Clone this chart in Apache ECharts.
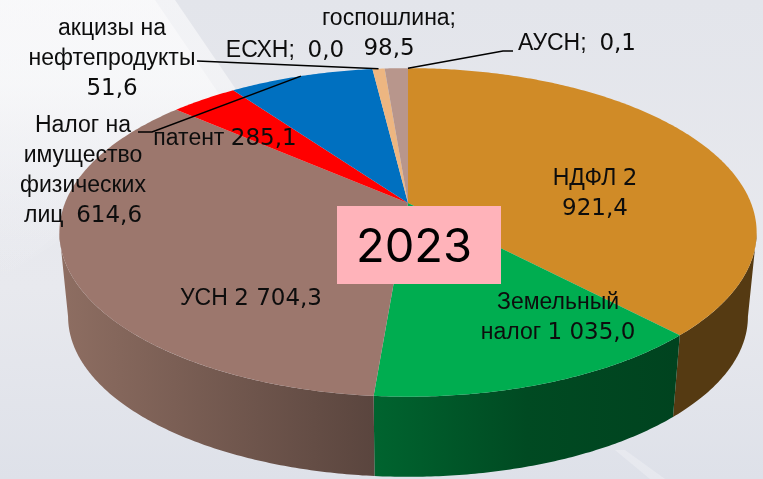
<!DOCTYPE html>
<html>
<head>
<meta charset="utf-8">
<style>
    html, body { margin: 0; padding: 0; }
    #chart { width: 763px; height: 479px; }
</style>
<script src="https://cdn.jsdelivr.net/npm/echarts@6/dist/echarts.min.js"></script>
</head>
<body>
<div id="chart"></div>
<script>
    /* данные 2023 */
    var names = ['НДФЛ', 'Земельный налог', 'УСН', 'патент', 'Налог на имущество физических лиц', 'акцизы на нефтепродукты', 'ЕСХН', 'госпошлина', 'АУСН'];
    var values = [2921.4, 1035.0, 2704.3, 285.1, 614.6, 51.6, 0.0, 98.5, 0.1];
    var labelTexts = ['НДФЛ 2\n921,4', 'Земельный\nналог 1 035,0', 'УСН 2 704,3', 'патент 285,1', 'Налог на\nимущество\nфизических\nлиц  614,6', 'акцизы на\nнефтепродукты\n51,6', 'ЕСХН;  0,0', 'госпошлина;\n98,5', 'АУСН;  0,1'];
    var yearLabel = '2023';

    /* стили */
    var topColors = ['#D08B27', '#00AD50', '#9C776D', '#FF0000', '#0070C0', '#EDB681', '#A5A5A5', '#B8968C', '#5B9BD5'];
    var wallColors = [
        ['#553A12', '#553A12'],
        ['#00642F', '#004A22', '#00431F'],
        ['#8E6E62', '#5A453E'],
        ['#990000', '#990000'],
        ['#004373', '#004373'],
        ['#8E6D4D', '#8E6D4D'],
        ['#636363', '#636363'],
        ['#6E5A54', '#6E5A54'],
        ['#375D80', '#375D80']
    ];
    var labelX = [595, 558, 251, 225, 83, 112, 285, 389, 577];
    var labelY = [194, 318, 299, 139, 171, 59, 51, 34, 44];
    /* выноски: от подписи к середине сектора */
    var leaders = { 4: [[138, 132], [152, 132]], 5: [[197, 61]], 8: [[513, 51], [503, 51]] };

    /* перспектива круга */
    var cx = 408, apexY = 203, scaleX = 343, scaleY = 159, persp = 0.179;
    var wallY = 288, wallScale = 0.975;
    /* углы, где боковая стенка переходит в контур */
    var wallFrom = Math.acos(-persp), wallTo = Math.PI * 2 - wallFrom;

    var total = values.reduce(function (a, b) { return a + b; }, 0);
    var starts = [];
    values.reduce(function (sum, v, i) { starts[i] = sum; return sum + v; }, 0);

    function toAngle(v) { return v / total * Math.PI * 2; }
    function project(angle, y0, s) {
        var u = Math.sin(angle), v = Math.cos(angle), d = 1 + persp * v;
        return [cx + s * scaleX * u / d, y0 - s * scaleY * v / d];
    }
    function arc(a0, a1, y0, s) {
        var pts = [], n = Math.max(1, Math.ceil((a1 - a0) / 0.01));
        for (var i = 0; i <= n; i++) {
            pts.push(project(a0 + (a1 - a0) * i / n, y0, s));
        }
        return pts;
    }

    function renderWall(params, api) {
        var i = params.dataIndex;
        var a0 = Math.max(toAngle(starts[i]), wallFrom);
        var a1 = Math.min(toAngle(starts[i] + api.value(0)), wallTo);
        if (a1 <= a0) return { type: 'group', children: [] };
        var stops = wallColors[i].map(function (c, k, all) {
            return { offset: k / (all.length - 1), color: c };
        });
        var pts = arc(a0, a1, apexY, 1).concat(arc(a0, a1, wallY, wallScale).reverse());
        return {
            type: 'polygon',
            shape: { points: pts },
            style: { fill: new echarts.graphic.LinearGradient(0, 0, 1, 0, stops) }
        };
    }

    function renderTop(params, api) {
        var i = params.dataIndex;
        var a0 = toAngle(starts[i]), a1 = toAngle(starts[i] + api.value(0));
        if (a1 <= a0) return { type: 'group', children: [] };
        return {
            type: 'polygon',
            shape: { points: [[cx, apexY]].concat(arc(a0, a1, apexY, 1)) },
            style: { fill: topColors[i] }
        };
    }

    function renderLeader(params, api) {
        var i = params.dataIndex;
        if (!leaders[i]) return { type: 'group', children: [] };
        var mid = project(toAngle(starts[i] + api.value(0) / 2), apexY, 1);
        return {
            type: 'polyline',
            shape: { points: leaders[i].concat([mid]) },
            style: { stroke: '#000', lineWidth: 1.5, fill: null }
        };
    }

    /* цифры в оригинале шире букв, поэтому два шрифта */
    function richLabel(text) {
        return text.split('\n').map(function (line) {
            return line.split(/(\d[\d ,]*)/).map(function (part, k) {
                if (!part) return '';
                return (k % 2 ? '{d|' : '{w|') + part + '}';
            }).join('');
        }).join('\n');
    }
    var labelRich = {
        w: { font: '23px "Liberation Sans", sans-serif', lineHeight: 30, fill: '#0D0D0D' },
        d: { font: '23px "DejaVu Sans", sans-serif', lineHeight: 30, fill: '#0D0D0D' }
    };

    var whiteFade = [
        { offset: 0, color: 'rgba(252,252,253,0.6)' }, { offset: 0.3, color: 'rgba(250,250,251,0.6)' }, { offset: 1, color: 'rgba(240,241,245,0)' }
    ];
    var graphics = [
        {
            type: 'polygon', z: -10, silent: true,
            shape: { points: [[0, 0], [175, 0], [250, 110], [120, 200], [0, 280]] },
            style: { fill: new echarts.graphic.LinearGradient(0, 0, 0, 1, whiteFade) }
        },
        {
            type: 'polygon', z: -10, silent: true,
            shape: { points: [[0, 0], [155, 0], [230, 110], [100, 200], [0, 280]] },
            style: { fill: new echarts.graphic.LinearGradient(0, 0, 0, 1, whiteFade) }
        },
        {
            type: 'polygon', z: -10, silent: true,
            shape: { points: [[615, 450], [625, 450], [665, 479], [650, 479]] },
            style: { fill: 'rgba(245,246,248,0.35)' }
        },
        {
            type: 'rect', z: 5, silent: true,
            shape: { x: 337, y: 206, width: 164, height: 78 },
            style: { fill: '#FFB3BA' }
        },
        {
            type: 'text', z: 6, silent: true, x: 414, y: 248,
            style: { text: yearLabel, font: '47px Inter, sans-serif', fill: '#000', textAlign: 'center', textVerticalAlign: 'middle' }
        }
    ];
    labelTexts.forEach(function (t, i) {
        graphics.push({
            type: 'text', z: 10, silent: true, x: labelX[i], y: labelY[i],
            style: { text: richLabel(t), rich: labelRich, textAlign: 'center', textVerticalAlign: 'middle' }
        });
    });

    var seriesData = values.map(function (v, i) { return { name: names[i], value: v }; });
    var chart = echarts.init(document.getElementById('chart'));
    chart.setOption({
        animation: false,
        backgroundColor: new echarts.graphic.LinearGradient(0, 0, 0, 1, [
            { offset: 0, color: '#E3E5EB' }, { offset: 0.6, color: '#E8E9EE' }, { offset: 1, color: '#DEE1E9' }
        ]),
        graphic: graphics,
        series: [
            { type: 'custom', coordinateSystem: 'none', z: 1, silent: true, renderItem: renderWall, data: seriesData },
            { type: 'custom', coordinateSystem: 'none', z: 2, silent: true, renderItem: renderTop, data: seriesData },
            { type: 'custom', coordinateSystem: 'none', z: 3, silent: true, renderItem: renderLeader, data: seriesData }
        ]
    });
</script>
</body>
</html>
